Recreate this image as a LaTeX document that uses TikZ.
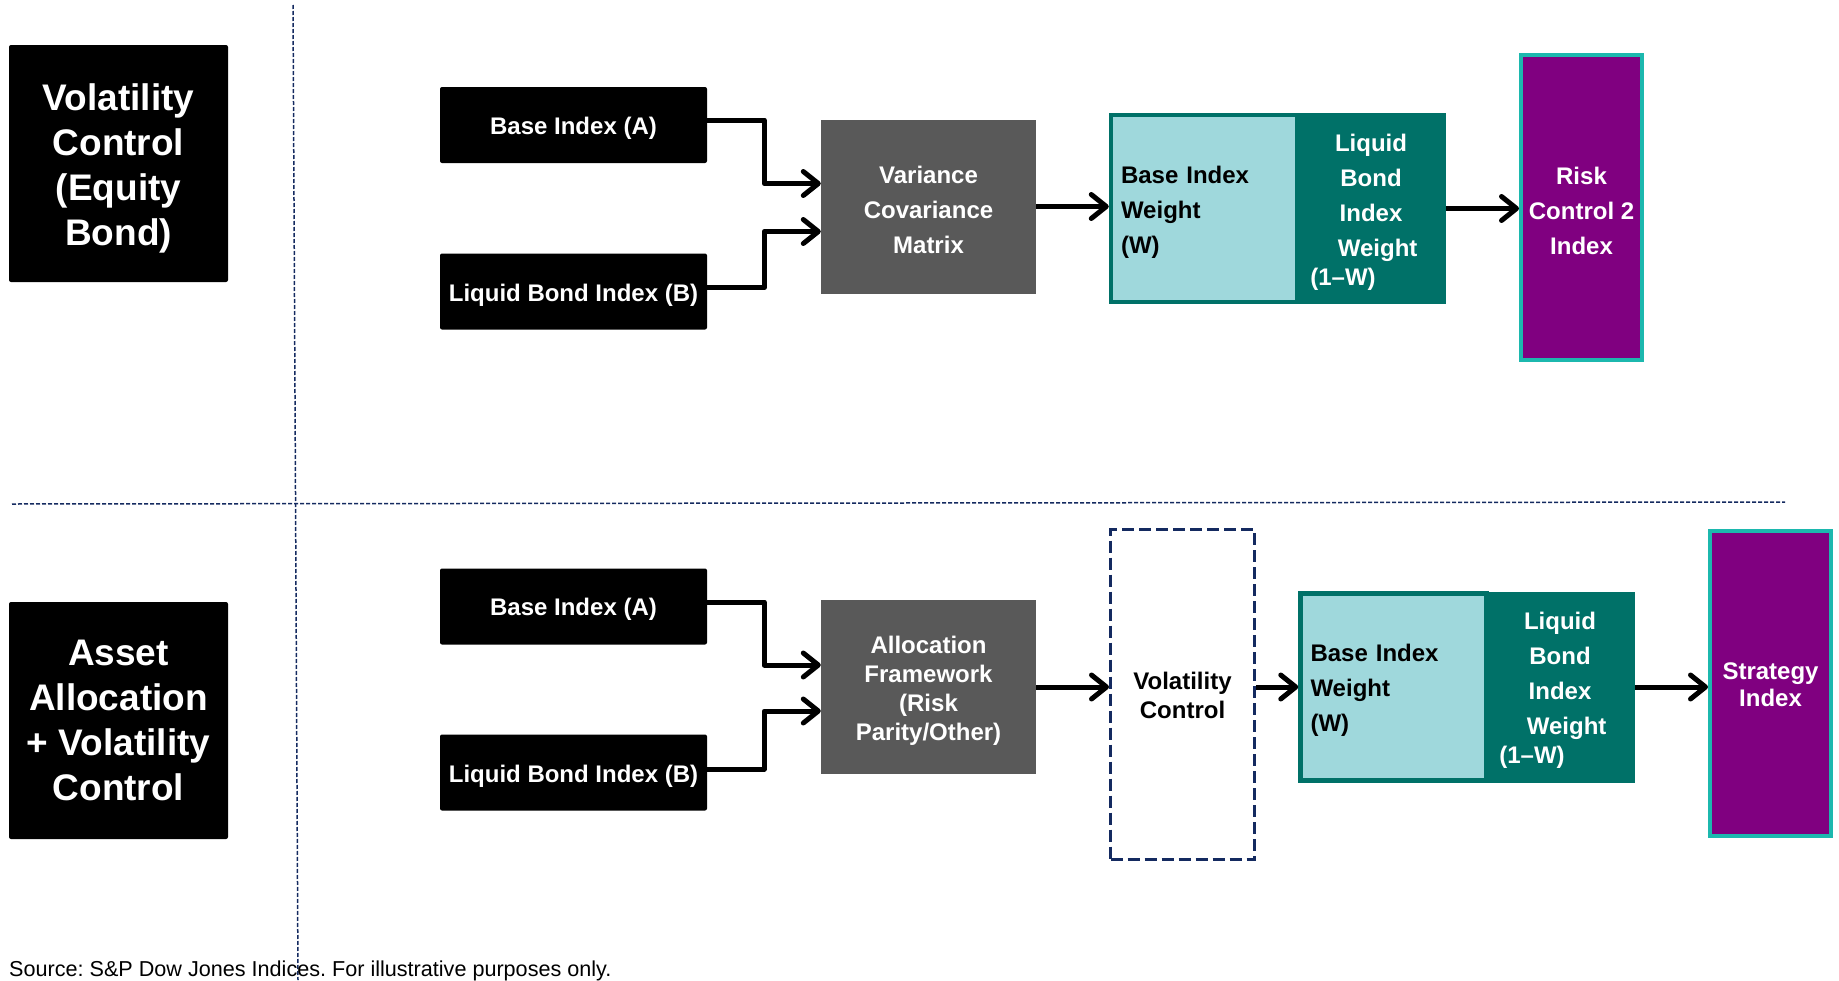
\documentclass[tikz,border=0pt]{standalone}
\usepackage{fontspec}
\setmainfont{Liberation Sans}
\usetikzlibrary{arrows.meta,calc}
\definecolor{boxgrey}{RGB}{89,89,89}
\definecolor{lightteal}{RGB}{159,216,220}
\definecolor{darkteal}{RGB}{0,113,104}
\definecolor{mypurple}{RGB}{128,0,128}
\definecolor{brightteal}{RGB}{28,184,174}
\definecolor{navy}{RGB}{20,42,96}
\newcommand{\sk}[1]{\rule{0pt}{#1}}
\begin{document}
\begin{tikzpicture}[x=1pt,y=-1pt,
  bigfont/.style={font=\fontsize{37}{45}\selectfont\bfseries},
  smallfont/.style={font=\fontsize{24}{35}\selectfont\bfseries},
  labbox/.style={fill=black,text=white,rounded corners=2pt,minimum width=219pt,minimum height=237pt,align=center,bigfont},
  inbox/.style={fill=black,text=white,rounded corners=2pt,minimum width=267pt,minimum height=76pt,smallfont},
  procbox/.style={fill=boxgrey,text=white,minimum width=215pt,minimum height=174pt,align=center,smallfont},
  lightbox/.style={fill=lightteal,draw=darkteal,line width=4.5pt,minimum height=187pt,text width=166pt,inner xsep=10pt,align=left,smallfont},
  darkbox/.style={fill=darkteal,text=white,minimum width=150pt,minimum height=191pt,align=center,smallfont},
  purpbox/.style={fill=mypurple,draw=brightteal,line width=4pt,text=white,minimum width=121pt,minimum height=305pt,align=center,smallfont},
  volbox/.style={draw=navy,line width=3pt,dash pattern=on 12pt off 5pt,minimum width=144pt,minimum height=330pt,align=center,smallfont},
  sep/.style={draw=navy,line width=1.5pt,dash pattern=on 4pt off 2pt},
  arr/.style={draw=black,line width=5pt,line join=round,-{Straight Barb[length=15pt,width=24pt,round]}}
]
\useasboundingbox (0,0) rectangle (1839,980);

% separators
\draw[sep] (293,5) -- (298,980);
\draw[sep] (12,504) -- (1785,502);

% ---- top row ----
\node[labbox] (lab1) at (118.5,163.5) {\sk{36pt}Volatility\\Control\\(Equity\\Bond)};
\node[inbox] (A1) at (573.5,125) {\sk{24pt}Base Index (A)};
\node[inbox] (B1) at (573.5,291.5) {\sk{24pt}Liquid Bond Index (B)};
\node[procbox] (V1) at (928.5,206.5) {\sk{24pt}Variance\\Covariance\\Matrix};
\node[darkbox] (L1) at (1371,208.5) {\sk{24pt}Liquid\\Bond\\Index\\\ \ Weight\\[-6pt]\hspace*{-56pt}(1--W)};
\node[lightbox] (W1) at (1204,208.5) {\sk{24pt}Base Index\\Weight\\(W)};
\node[purpbox] (P1) at (1581.5,207.5) {\sk{24pt}Risk\\Control 2\\Index};

\draw[arr] ([yshift=5pt]A1.east) -- ++(57,0) |- ([yshift=23pt]V1.west);
\draw[arr] ([yshift=4pt]B1.east) -- ++(57,0) |- ([yshift=-25pt]V1.west);
\draw[arr] (V1.east) -- (V1.east -| W1.west);
\draw[arr] (L1.east) -- (L1.east -| P1.west);

% ---- bottom row ----
\node[labbox] (lab2) at (118.5,720.5) {Asset\\Allocation\\+ Volatility\\Control};
\node[inbox] (A2) at (573.5,606.5) {\sk{23pt}Base Index (A)};
\node[inbox] (B2) at (573.5,772.5) {\sk{24pt}Liquid Bond Index (B)};
\node[procbox,font=\fontsize{24}{29}\selectfont\bfseries] (AF2) at (928.5,687) {\sk{24pt}Allocation\\Framework\\(Risk\\Parity/Other)};
\node[volbox,font=\fontsize{24}{29}\selectfont\bfseries] (VC2) at (1182.5,694.5) {\sk{20pt}Volatility\\Control};
\node[darkbox] (L2) at (1560,687) {\sk{24pt}Liquid\\Bond\\Index\\\ \ Weight\\[-6pt]\hspace*{-56pt}(1--W)};
\node[lightbox] (W2) at (1393.5,687) {\sk{24pt}Base Index\\Weight\\(W)};
\node[purpbox,font=\fontsize{24}{27}\selectfont\bfseries] (P2) at (1770.5,683) {\sk{20pt}Strategy\\Index};

\draw[arr] ([yshift=4.5pt]A2.east) -- ++(57,0) |- ([yshift=22pt]AF2.west);
\draw[arr] ([yshift=3.5pt]B2.east) -- ++(57,0) |- ([yshift=-24pt]AF2.west);
\draw[arr] (AF2.east) -- (AF2.east -| VC2.west);
\draw[arr] (VC2.east |- W2.west) -- (W2.west);
\draw[arr] (L2.east) -- (L2.east -| P2.west);

% source
\node[anchor=base west,inner sep=0pt,font=\fontsize{21.6}{25}\selectfont\frenchspacing] (src) at (9,976) {Source: S\&P Dow Jones Indices. For illustrative purposes only.};
\end{tikzpicture}
\end{document}
